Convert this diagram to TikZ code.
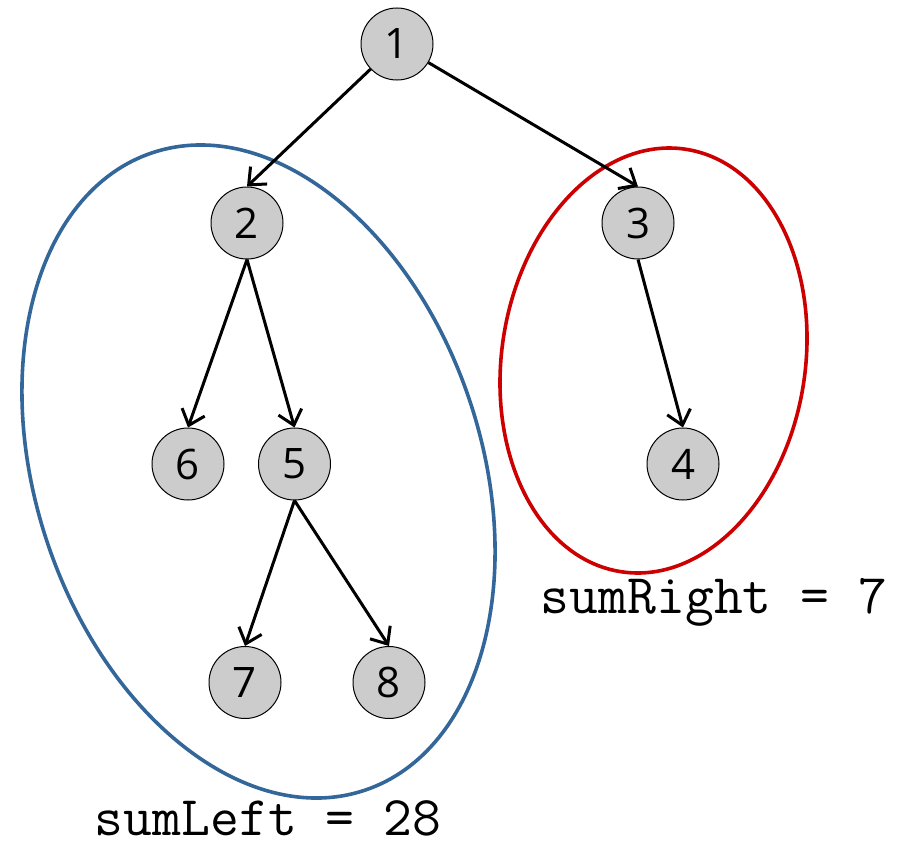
\documentclass[tikz,border=0pt]{standalone}
\usepackage{fontspec}
\newfontfamily\nodefont{Open Sans}
\usetikzlibrary{arrows.meta}
\definecolor{nodegray}{HTML}{CCCCCC}
\definecolor{leftblue}{HTML}{336699}
\definecolor{rightred}{HTML}{CC0000}
\begin{document}
\begin{tikzpicture}[x=1pt,y=1pt,
  treenode/.style={circle,draw=black,line width=1pt,fill=nodegray,minimum size=72pt,inner sep=0pt,font=\nodefont\fontsize{42}{42}\selectfont},
  edge/.style={line width=3pt,-{Straight Barb[length=14pt,width=24pt,line width=3pt]}},
  group/.style={line width=3.6pt},
  sumlabel/.style={font=\ttfamily\fontsize{56}{56}\selectfont,inner sep=0pt,anchor=base}
]
\useasboundingbox (0,0) rectangle (901,-843);
\draw[group,leftblue] (258.5,-471.5) ellipse[x radius=222.8,y radius=336,rotate=18.4];
\draw[group,rightred] (653.5,-360.5) ellipse[x radius=151.8,y radius=213.7,rotate=-8.7];
\node[treenode] (n1) at (397,-44) {1};
\node[treenode] (n2) at (247,-223) {2};
\node[treenode] (n3) at (638,-223) {3};
\node[treenode] (n6) at (188,-464) {6};
\node[treenode] (n5) at (294.5,-464) {5};
\node[treenode] (n4) at (683,-464) {4};
\node[treenode] (n7) at (245,-682.5) {7};
\node[treenode] (n8) at (389,-682.5) {8};
\draw[edge] (n1) -- (n2.north);
\draw[edge] (n1) -- (n3.north);
\draw[edge] (n2.south) -- (n6.north);
\draw[edge] (n2.south) -- (n5.north);
\draw[edge] (n3.south) -- (n4.north);
\draw[edge] (n5.south) -- (n7.north);
\draw[edge] (n5.south) -- (n8.north);
\node[sumlabel] (sr) at (714,-613) {sumRight = 7};
\node[sumlabel] (sl) at (268,-835) {sumLeft = 28};
\end{tikzpicture}
\end{document}
